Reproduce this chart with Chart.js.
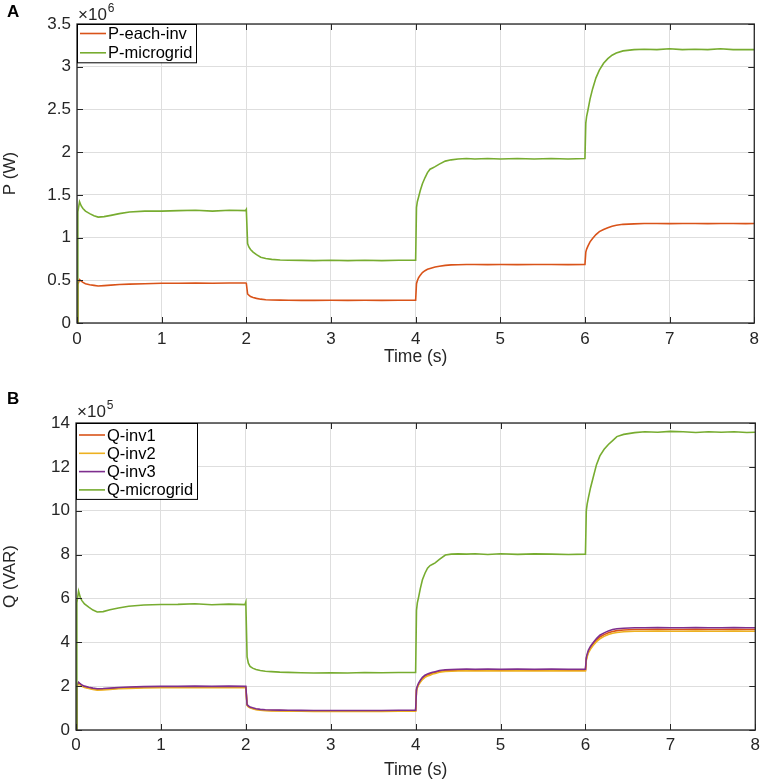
<!DOCTYPE html>
<html>
<head>
<meta charset="utf-8">
<title>P and Q of the microgrid</title>
<script src="https://cdn.jsdelivr.net/npm/chart.js@4.4.1/dist/chart.umd.min.js"></script>
<style>
  html, body { margin: 0; padding: 0; background: #fff; }
  #boxP { position: absolute; left: 0; top: 0; }
  #boxQ { position: absolute; left: 0; top: 378px; }
</style>
</head>
<body>
<div id="boxP"><canvas id="chartP" width="765" height="375"></canvas></div>
<div id="boxQ"><canvas id="chartQ" width="765" height="404"></canvas></div>
<script>
// sample times (s), shared by every trace; one line per load step
const timeS = [
  0, 0.01, 0.03, 0.05, 0.07, 0.1, 0.15, 0.2, 0.25, 0.32, 0.4, 0.5, 0.62, 0.8, 1.0, 1.2, 1.4, 1.6, 1.8, 1.99,
  2.0, 2.015, 2.03, 2.05, 2.08, 2.12, 2.17, 2.23, 2.3, 2.4, 2.5, 2.65, 2.8, 3.0, 3.2, 3.4, 3.6, 3.8,
  4.0, 4.01, 4.02, 4.035, 4.055, 4.08, 4.11, 4.14, 4.17, 4.2, 4.23, 4.28, 4.35, 4.42, 4.5, 4.6, 4.7, 4.85, 5.0, 5.2, 5.4, 5.6, 5.8,
  6.0, 6.01, 6.02, 6.035, 6.06, 6.09, 6.13, 6.17, 6.22, 6.27, 6.32, 6.37, 6.45, 6.58, 6.7, 6.85, 7.0, 7.15, 7.3, 7.45, 7.6, 7.75, 7.9, 8.0];

// P in units of 1e6 W
const pEachInv = [
  0, 0.45, 0.508, 0.49, 0.475, 0.46, 0.448, 0.44, 0.433, 0.437, 0.443, 0.45, 0.455, 0.46, 0.465, 0.465, 0.468, 0.465, 0.468, 0.468,
  0.465, 0.34, 0.325, 0.31, 0.298, 0.288, 0.279, 0.273, 0.27, 0.268, 0.266, 0.265, 0.265, 0.266, 0.265, 0.266, 0.265, 0.266,
  0.266, 0.46, 0.495, 0.53, 0.56, 0.59, 0.612, 0.628, 0.637, 0.646, 0.655, 0.665, 0.675, 0.68, 0.682, 0.684, 0.684, 0.683, 0.684, 0.683, 0.685, 0.684, 0.683,
  0.684, 0.83, 0.865, 0.90, 0.95, 0.99, 1.035, 1.07, 1.095, 1.115, 1.132, 1.145, 1.155, 1.16, 1.164, 1.165, 1.163, 1.165, 1.164, 1.163, 1.165, 1.164, 1.163, 1.164];
const pMicrogrid = [
  0, 1.30, 1.42, 1.37, 1.34, 1.31, 1.28, 1.255, 1.24, 1.245, 1.26, 1.28, 1.30, 1.31, 1.31, 1.315, 1.32, 1.31, 1.32, 1.315,
  1.33, 0.93, 0.89, 0.86, 0.83, 0.80, 0.77, 0.755, 0.745, 0.738, 0.735, 0.733, 0.73, 0.735, 0.73, 0.735, 0.73, 0.735,
  0.735, 1.35, 1.42, 1.475, 1.55, 1.63, 1.70, 1.76, 1.80, 1.815, 1.83, 1.86, 1.895, 1.91, 1.92, 1.925, 1.92, 1.925, 1.92, 1.925, 1.92, 1.925, 1.92,
  1.925, 2.34, 2.42, 2.49, 2.62, 2.74, 2.87, 2.96, 3.04, 3.095, 3.135, 3.16, 3.185, 3.2, 3.205, 3.2, 3.21, 3.2, 3.205, 3.2, 3.21, 3.2, 3.2, 3.2];

// Q in units of 1e5 VAR
const qInv1 = [
  0, 2.0, 2.15, 2.08, 2.02, 1.97, 1.92, 1.88, 1.85, 1.86, 1.88, 1.91, 1.93, 1.95, 1.96, 1.96, 1.97, 1.96, 1.97, 1.96,
  1.96, 1.14, 1.08, 1.03, 0.99, 0.95, 0.92, 0.9, 0.89, 0.885, 0.88, 0.875, 0.87, 0.87, 0.87, 0.87, 0.87, 0.88,
  0.88, 1.82, 1.96, 2.1, 2.22, 2.35, 2.45, 2.51, 2.55, 2.59, 2.62, 2.67, 2.71, 2.72, 2.73, 2.74, 2.73, 2.74, 2.73, 2.74, 2.73, 2.74, 2.73,
  2.73, 3.24, 3.4, 3.58, 3.76, 3.92, 4.1, 4.24, 4.35, 4.43, 4.49, 4.53, 4.56, 4.58, 4.58, 4.59, 4.58, 4.58, 4.59, 4.58, 4.58, 4.59, 4.58, 4.58];
const qInv2 = [
  0, 1.97, 2.12, 2.05, 1.99, 1.94, 1.89, 1.85, 1.82, 1.83, 1.85, 1.88, 1.9, 1.92, 1.93, 1.93, 1.94, 1.93, 1.94, 1.93,
  1.93, 1.12, 1.06, 1.01, 0.97, 0.93, 0.9, 0.88, 0.87, 0.865, 0.86, 0.855, 0.85, 0.85, 0.85, 0.85, 0.85, 0.86,
  0.86, 1.78, 1.92, 2.06, 2.18, 2.3, 2.4, 2.46, 2.5, 2.55, 2.58, 2.63, 2.67, 2.68, 2.69, 2.70, 2.69, 2.70, 2.69, 2.70, 2.69, 2.70, 2.69,
  2.69, 3.18, 3.34, 3.52, 3.69, 3.85, 4.03, 4.16, 4.27, 4.35, 4.41, 4.45, 4.48, 4.5, 4.5, 4.51, 4.5, 4.5, 4.51, 4.5, 4.5, 4.51, 4.5, 4.5];
const qInv3 = [
  0, 2.03, 2.18, 2.11, 2.05, 2.0, 1.95, 1.91, 1.88, 1.89, 1.91, 1.94, 1.96, 1.98, 1.99, 1.99, 2.0, 1.99, 2.0, 1.99,
  1.99, 1.16, 1.1, 1.05, 1.01, 0.97, 0.94, 0.92, 0.91, 0.905, 0.9, 0.895, 0.89, 0.89, 0.89, 0.89, 0.89, 0.9,
  0.9, 1.86, 2.0, 2.14, 2.27, 2.4, 2.5, 2.56, 2.6, 2.63, 2.66, 2.71, 2.75, 2.76, 2.77, 2.78, 2.77, 2.78, 2.77, 2.78, 2.77, 2.78, 2.77,
  2.77, 3.3, 3.46, 3.64, 3.82, 3.98, 4.17, 4.32, 4.43, 4.52, 4.58, 4.62, 4.64, 4.66, 4.66, 4.67, 4.66, 4.66, 4.67, 4.66, 4.66, 4.67, 4.66, 4.66];
const qMicrogrid = [
  0, 5.8, 6.33, 6.05, 5.9, 5.75, 5.6, 5.47, 5.38, 5.4, 5.48, 5.56, 5.64, 5.70, 5.72, 5.73, 5.76, 5.71, 5.74, 5.72,
  5.83, 3.33, 3.05, 2.9, 2.82, 2.76, 2.71, 2.68, 2.66, 2.64, 2.63, 2.61, 2.6, 2.61, 2.6, 2.62, 2.61, 2.62,
  2.62, 5.45, 5.8, 6.06, 6.45, 6.85, 7.15, 7.38, 7.5, 7.56, 7.62, 7.78, 7.98, 8.02, 8.03, 8.02, 8.04, 8.0, 8.04, 8.01, 8.03, 8.02, 8.0,
  8.02, 10.0, 10.3, 10.6, 11.05, 11.5, 12.1, 12.5, 12.8, 13.02, 13.2, 13.38, 13.48, 13.56, 13.6, 13.58, 13.62, 13.6, 13.57, 13.6, 13.58, 13.6, 13.57, 13.58];

const timeTicks = [0, 1, 2, 3, 4, 5, 6, 7, 8];
const pTicks = [0, 0.5, 1, 1.5, 2, 2.5, 3, 3.5];
const qTicks = [0, 2, 4, 6, 8, 10, 12, 14];

const FONT = '"Liberation Sans", Arial, Helvetica, sans-serif';
const INK = '#262626';
const GRID = '#dedede';
Chart.defaults.font.family = FONT;

function series(values) {
  return timeS.map((t, i) => ({ x: t, y: values[i] }));
}

function line(label, values, color, order) {
  return {
    label: label,
    data: series(values),
    borderColor: color,
    backgroundColor: color,
    borderWidth: 1.6,
    pointRadius: 0,
    tension: 0,
    order: order
  };
}

// box, inward ticks, legend in the corner, exponent and panel letter
function matlabFrame(cfg) {
  return {
    id: 'matlabFrame',
    afterDraw(chart) {
      const { ctx, chartArea: a, scales } = chart;
      ctx.save();
      ctx.strokeStyle = INK;
      ctx.lineWidth = 1;
      ctx.beginPath();
      scales.x.ticks.forEach(t => {
        const px = Math.round(scales.x.getPixelForValue(t.value)) + 0.5;
        ctx.moveTo(px, a.bottom); ctx.lineTo(px, a.bottom - 6);
        ctx.moveTo(px, a.top); ctx.lineTo(px, a.top + 6);
      });
      scales.y.ticks.forEach(t => {
        const py = Math.round(scales.y.getPixelForValue(t.value)) + 0.5;
        ctx.moveTo(a.left, py); ctx.lineTo(a.left + 6, py);
        ctx.moveTo(a.right, py); ctx.lineTo(a.right - 6, py);
      });
      ctx.stroke();
      ctx.lineWidth = 1.3;
      ctx.strokeRect(a.left, a.top, a.right - a.left, a.bottom - a.top);

      // legend
      const sets = chart.data.datasets;
      const boxH = cfg.legTop + cfg.legRow * (sets.length - 1) + cfg.legBottom;
      ctx.fillStyle = '#fff';
      ctx.fillRect(a.left, a.top, cfg.legW, boxH);
      ctx.strokeStyle = '#000';
      ctx.lineWidth = 1;
      ctx.strokeRect(a.left + 0.5, a.top + 0.5, cfg.legW, boxH);
      ctx.font = '16.5px ' + FONT;
      ctx.textBaseline = 'middle';
      ctx.textAlign = 'left';
      sets.forEach((ds, i) => {
        const y = a.top + cfg.legTop + i * cfg.legRow;
        ctx.strokeStyle = ds.borderColor;
        ctx.lineWidth = 1.6;
        ctx.beginPath();
        ctx.moveTo(a.left + 3, y); ctx.lineTo(a.left + 29, y);
        ctx.stroke();
        ctx.fillStyle = '#000';
        ctx.fillText(ds.label, a.left + 31, y + 1);
      });

      // exponent
      ctx.fillStyle = INK;
      ctx.textBaseline = 'alphabetic';
      ctx.font = '17px ' + FONT;
      ctx.fillText('\u00d710', a.left + 1, a.top - cfg.expDrop);
      const w = ctx.measureText('\u00d710').width;
      ctx.font = '12px ' + FONT;
      ctx.fillText(cfg.exp, a.left + 2 + w, a.top - cfg.expDrop - 8);

      // panel letter
      ctx.fillStyle = '#000';
      ctx.font = 'bold 17px ' + FONT;
      ctx.fillText(cfg.letter, 7, cfg.letterY);
      ctx.restore();
    }
  };
}

function makeChart(id, datasets, yTicks, yMax, yTitle, lay) {
  return new Chart(document.getElementById(id), {
    type: 'line',
    data: { datasets: datasets },
    options: {
      responsive: false,
      animation: false,
      parsing: false,
      layout: { padding: { left: 0, top: lay.top, right: lay.right, bottom: lay.bottom } },
      plugins: { legend: { display: false }, tooltip: { enabled: false } },
      scales: {
        x: {
          type: 'linear',
          min: 0, max: 8,
          afterBuildTicks: s => { s.ticks = timeTicks.map(v => ({ value: v })); },
          afterFit: s => { s.height = lay.xh; },
          grid: { color: GRID, lineWidth: 1, drawTicks: false },
          border: { display: false },
          ticks: { color: INK, font: { size: 17 }, padding: lay.xpad, maxRotation: 0, autoSkip: false,
                   callback: v => String(v) },
          title: { display: true, text: 'Time (s)', color: INK, font: { size: 17.5 },
                   padding: { top: 0, bottom: 0 } }
        },
        y: {
          type: 'linear',
          min: 0, max: yMax,
          afterBuildTicks: s => { s.ticks = yTicks.map(v => ({ value: v })); },
          afterFit: s => { s.width = lay.yw; },
          grid: { color: GRID, lineWidth: 1, drawTicks: false },
          border: { display: false },
          ticks: { color: INK, font: { size: 17 }, padding: 6, autoSkip: false,
                   callback: v => String(Math.round(v * 10) / 10) },
          title: { display: true, text: yTitle, color: INK, font: { size: 17 },
                   padding: { top: 0, bottom: 0 } }
        }
      }
    },
    plugins: [matlabFrame(lay)]
  });
}

makeChart('chartP', [
  line('P-each-inv', pEachInv, '#D95319', 2),
  line('P-microgrid', pMicrogrid, '#77AC30', 1)
], pTicks, 3.5, 'P (W)', {
  top: 24, right: 8, bottom: 7, xh: 45, yw: 77, xpad: 6,
  legW: 119, legTop: 9.5, legRow: 19.3, legBottom: 9.5,
  exp: '6', expDrop: 4, letter: 'A', letterY: 17
});

makeChart('chartQ', [
  line('Q-inv1', qInv1, '#D95319', 4),
  line('Q-inv2', qInv2, '#EDB120', 3),
  line('Q-inv3', qInv3, '#7E2F8E', 2),
  line('Q-microgrid', qMicrogrid, '#77AC30', 1)
], qTicks, 14, 'Q (VAR)', {
  top: 45, right: 9, bottom: 1, xh: 51, yw: 76, xpad: 5,
  legW: 121, legTop: 12, legRow: 18.3, legBottom: 9,
  exp: '5', expDrop: 6, letter: 'B', letterY: 26
});
</script>
</body>
</html>
